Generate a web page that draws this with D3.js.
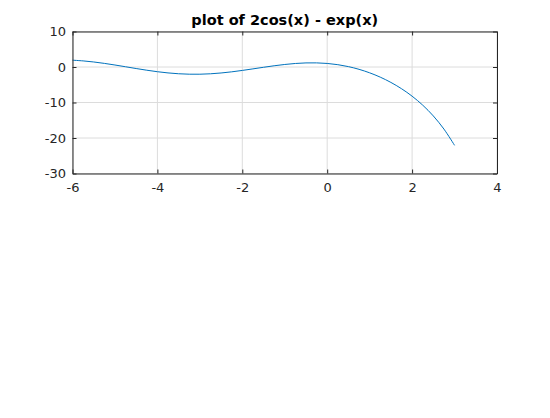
<!DOCTYPE html>
<html>
<head>
<meta charset="utf-8">
<script src="https://cdn.jsdelivr.net/npm/d3@7"></script>
<style>
  body { margin: 0; background: #fff; }
  svg { display: block; font-family: "DejaVu Sans", sans-serif; }
</style>
</head>
<body>
<svg id="chart"></svg>
<script>
// values
const xs = [-6, -5.75, -5.5, -5.25, -5, -4.75, -4.5, -4.25, -4, -3.75, -3.5, -3.25, -3,
  -2.75, -2.5, -2.25, -2, -1.75, -1.5, -1.25, -1, -0.75, -0.5, -0.25, 0,
  0.25, 0.5, 0.75, 1, 1.25, 1.5, 1.75, 2, 2.25, 2.5, 2.75, 3];
const ys = [1.918, 1.719, 1.413, 1.019, 0.561, 0.067, -0.433, -0.906, -1.326, -1.665, -1.903, -2.027, -2.030,
  -1.913, -1.684, -1.362, -0.968, -0.530, -0.082, 0.344, 0.713, 0.991, 1.149, 1.159, 1.0,
  0.654, 0.106, -0.654, -1.638, -2.860, -4.340, -6.111, -8.221, -10.744, -13.785, -17.491, -22.066];
const xTicks = [-6, -4, -2, 0, 2, 4];
const yTicks = [-30, -20, -10, 0, 10];
const title = 'plot of 2cos(x) - exp(x)';

const W = 550, H = 418;
const margin = { top: 31.5, left: 72.5, right: 53, bottom: 244.5 };
const width = W - margin.left - margin.right;
const height = H - margin.top - margin.bottom;

const svg = d3.select('#chart').attr('width', W).attr('height', H);
const g = svg.append('g').attr('transform', `translate(${margin.left},${margin.top})`);

const x = d3.scaleLinear().domain([-6, 4]).range([0, width]);
const y = d3.scaleLinear().domain([-30, 10]).range([height, 0]);

// grid
g.append('g').selectAll('line').data(xTicks).enter().append('line')
  .attr('x1', d => x(d)).attr('x2', d => x(d)).attr('y1', 0).attr('y2', height)
  .attr('stroke', '#dcdcdc').attr('stroke-width', 1);
g.append('g').selectAll('line').data(yTicks).enter().append('line')
  .attr('y1', d => y(d)).attr('y2', d => y(d)).attr('x1', 0).attr('x2', width)
  .attr('stroke', '#dcdcdc').attr('stroke-width', 1);

// curve
const pts = xs.map((v, i) => [v, ys[i]]);
g.append('path')
  .datum(pts)
  .attr('fill', 'none')
  .attr('stroke', '#0072bd')
  .attr('stroke-width', 1)
  .attr('d', d3.line().x(d => x(d[0])).y(d => y(d[1])).curve(d3.curveCatmullRom));

// axes, ticks pointing inward on all sides
const fmt = d => String(d); // plain hyphen, like the reference
const styleAxis = sel => {
  sel.select('.domain').attr('stroke', '#262626').attr('stroke-width', 1);
  sel.selectAll('.tick line').attr('stroke', '#262626');
  sel.selectAll('.tick text').attr('fill', '#262626').attr('font-size', 13)
    .attr('font-family', '"DejaVu Sans", sans-serif');
};
g.append('g').attr('transform', `translate(0,${height})`)
  .call(d3.axisBottom(x).tickValues(xTicks).tickFormat(fmt).tickSizeInner(-4).tickSizeOuter(0).tickPadding(9.5))
  .call(styleAxis);
g.append('g')
  .call(d3.axisLeft(y).tickValues(yTicks).tickFormat(fmt).tickSizeInner(-4).tickSizeOuter(0).tickPadding(6.5))
  .call(styleAxis);
g.append('g')
  .call(d3.axisTop(x).tickValues(xTicks).tickSizeInner(-4).tickSizeOuter(0).tickFormat(''))
  .call(styleAxis);
g.append('g').attr('transform', `translate(${width},0)`)
  .call(d3.axisRight(y).tickValues(yTicks).tickSizeInner(-4).tickSizeOuter(0).tickFormat(''))
  .call(styleAxis);

svg.append('text')
  .attr('x', margin.left + width / 2)
  .attr('y', 25)
  .attr('text-anchor', 'middle')
  .attr('font-weight', 'bold')
  .attr('font-size', 14.5)
  .attr('fill', '#000')
  .text(title);
</script>
</body>
</html>
